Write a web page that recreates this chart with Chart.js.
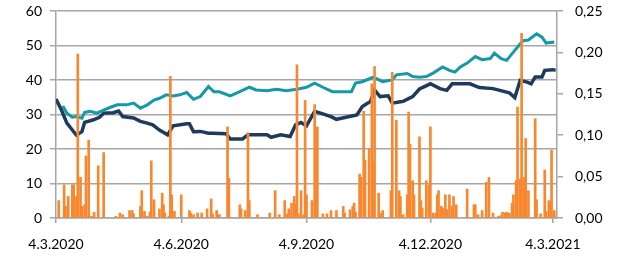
<!DOCTYPE html>
<html>
<head>
<meta charset="utf-8">
<script src="https://cdn.jsdelivr.net/npm/chart.js@4"></script>
<style>
  html, body { margin: 0; padding: 0; background: #fff; }
</style>
</head>
<body>
<canvas id="chart" width="641" height="256"></canvas>
<script>
// x axis is days since 4.3.2020
var tickDays = [0, 92, 184, 275, 365];
var tickLabels = ['4.3.2020', '4.6.2020', '4.9.2020', '4.12.2020', '4.3.2021'];

// dark line (left axis)
var navyDays = [0, 4, 8, 12, 15, 19, 21, 27, 32, 35, 42, 46, 49, 57, 62, 67, 71, 76, 82, 86, 96, 98, 101, 106, 112, 115, 125, 128, 137, 141, 155, 158, 165, 172, 176, 180, 184, 190, 196, 202, 206, 213, 221, 225, 231, 234, 238, 244, 247, 253, 255, 262, 267, 275, 282, 287, 291, 297, 304, 311, 321, 326, 333, 337, 341, 346, 349, 352, 357, 359, 365, 367];
var navyValues = [34.5, 31.3, 27.5, 25.5, 24, 25, 27.7, 28.4, 29.2, 30.4, 30.5, 31, 29.4, 29, 28, 27.5, 27, 25.5, 24.1, 26.7, 27.3, 27.3, 25, 25.1, 24.6, 24.6, 24.4, 22.9, 22.9, 24.1, 24.1, 23.4, 24.1, 23.6, 27, 27.7, 26.7, 30.9, 30.2, 29.4, 28.6, 29.2, 29.9, 32.3, 33.8, 37.1, 35.2, 35.4, 33.3, 33.7, 33.8, 35.2, 37.4, 38.9, 37.5, 37, 38.9, 38.9, 38.9, 37.8, 37.5, 37, 36.3, 34.9, 39.9, 39.4, 38.9, 40.9, 40.9, 42.8, 43, 42.8];

// teal line (left axis)
var tealDays = [5, 8, 12, 15, 19, 21, 25, 30, 35, 40, 45, 52, 57, 62, 67, 72, 76, 81, 86, 91, 96, 101, 106, 112, 116, 120, 128, 135, 142, 147, 155, 162, 169, 177, 184, 190, 196, 203, 211, 217, 220, 225, 233, 240, 247, 250, 258, 262, 267, 272, 277, 284, 289, 293, 297, 302, 308, 313, 319, 322, 327, 331, 337, 343, 347, 353, 357, 360, 366];
var tealValues = [32.5, 30.4, 29.2, 29.4, 28.9, 30.6, 30.9, 30.4, 31.3, 32.1, 32.8, 32.8, 33.3, 31.8, 32.8, 34.2, 34.7, 35.7, 35.4, 35.7, 36.4, 34.4, 35.2, 38.1, 36.6, 36.6, 35.4, 36.6, 37.9, 37.1, 36.9, 37.3, 36.9, 37.3, 37.9, 39.1, 37.9, 36.6, 36.6, 36.6, 39.1, 39.5, 40.8, 39.5, 40, 41.5, 41.9, 41, 40.8, 41, 42, 43.8, 42.8, 42.3, 43.8, 44.9, 46.8, 45.9, 46.2, 47.8, 46.2, 45.7, 48.6, 51.4, 51.6, 53.4, 52.4, 50.7, 51];

// orange bars (right axis)
var barDays = [2, 6, 7, 9, 12, 13, 15, 16, 18, 19, 21, 22, 24, 26, 28, 31, 35, 44, 47, 49, 54, 56, 57, 62, 63, 65, 67, 69, 70, 72, 76, 78, 79, 80, 83, 84, 85, 87, 92, 98, 99, 101, 104, 107, 111, 114, 115, 118, 120, 126, 127, 135, 136, 139, 141, 142, 148, 157, 161, 164, 168, 170, 171, 173, 175, 176, 177, 178, 180, 182, 183, 184, 188, 190, 191, 192, 196, 199, 202, 206, 211, 212, 216, 218, 219, 220, 223, 224, 226, 227, 230, 232, 233, 234, 237, 239, 240, 246, 247, 250, 252, 253, 255, 258, 259, 260, 262, 263, 267, 268, 269, 272, 274, 275, 277, 279, 280, 281, 283, 284, 286, 287, 289, 291, 292, 294, 302, 307, 308, 310, 313, 316, 318, 321, 325, 327, 328, 330, 331, 333, 335, 336, 338, 339, 341, 342, 344, 345, 347, 352, 353, 356, 359, 360, 362, 363, 364, 366];
var barValues = [0.021, 0.040, 0.014, 0.026, 0.040, 0.040, 0.026, 0.198, 0.049, 0.014, 0.016, 0.075, 0.094, 0.002, 0.007, 0.063, 0.079, 0.002, 0.006, 0.004, 0.009, 0.009, 0.005, 0.014, 0.033, 0.008, 0.002, 0.007, 0.069, 0.022, 0.011, 0.030, 0.016, 0.006, 0.002, 0.171, 0.028, 0.008, 0.028, 0.009, 0.006, 0.004, 0.006, 0.006, 0.011, 0.023, 0.005, 0.009, 0.004, 0.110, 0.048, 0.016, 0.011, 0.009, 0.103, 0.021, 0.004, 0.006, 0.033, 0.004, 0.021, 0.005, 0.011, 0.018, 0.026, 0.017, 0.185, 0.005, 0.033, 0.004, 0.142, 0.028, 0.021, 0.137, 0.109, 0.110, 0.005, 0.005, 0.009, 0.009, 0.014, 0.006, 0.010, 0.014, 0.018, 0.007, 0.053, 0.049, 0.129, 0.070, 0.083, 0.162, 0.067, 0.183, 0.030, 0.006, 0.009, 0.033, 0.176, 0.118, 0.033, 0.026, 0.004, 0.028, 0.128, 0.089, 0.045, 0.028, 0.098, 0.021, 0.012, 0.045, 0.040, 0.110, 0.006, 0.006, 0.028, 0.033, 0.014, 0.012, 0.028, 0.010, 0.028, 0.014, 0.026, 0.016, 0.035, 0.016, 0.016, 0.004, 0.009, 0.043, 0.049, 0.006, 0.002, 0.003, 0.007, 0.006, 0.007, 0.006, 0.018, 0.028, 0.045, 0.134, 0.047, 0.223, 0.049, 0.096, 0.033, 0.120, 0.022, 0.005, 0.058, 0.008, 0.021, 0.020, 0.082, 0.009];

function pairs(xs, ys) {
    return xs.map(function(x, i) { return { x: x, y: ys[i] }; });
}

var gridGrey = '#a6a6a6';
var font = { family: 'Lato, "Open Sans", sans-serif', size: 14 };

// fixed axis widths, and no extra label padding above/below the y axes
function fitVertical(width) {
    return function(axis) {
        axis.width = width;
        axis.paddingTop = 0;
        axis.paddingBottom = 0;
    };
}

new Chart(document.getElementById('chart').getContext('2d'), {
    type: 'bar',
    data: {
        datasets: [
            {
                type: 'bar',
                data: pairs(barDays, barValues),
                yAxisID: 'y1',
                backgroundColor: '#f7882f',
                barThickness: 2,
                order: 0
            },
            {
                type: 'line',
                data: pairs(navyDays, navyValues),
                yAxisID: 'y',
                borderColor: '#1e3a5c',
                borderWidth: 3.5,
                pointRadius: 0,
                order: 2
            },
            {
                type: 'line',
                data: pairs(tealDays, tealValues),
                yAxisID: 'y',
                borderColor: '#1499a8',
                borderWidth: 3,
                pointRadius: 0,
                order: 1
            }
        ]
    },
    options: {
        responsive: false,
        animation: false,
        layout: { padding: { top: 11, left: 0, right: 0, bottom: 0 } },
        plugins: { legend: { display: false }, tooltip: { enabled: false } },
        scales: {
            x: {
                type: 'linear',
                offset: false,
                min: 0,
                max: 368,
                afterBuildTicks: function(axis) {
                    axis.ticks = tickDays.map(function(d) { return { value: d }; });
                },
                afterFit: function(axis) { axis.height = 38; },
                ticks: {
                    color: '#000',
                    font: font,
                    maxRotation: 0,
                    autoSkip: false,
                    padding: 13,
                    callback: function(value) {
                        var i = tickDays.indexOf(value);
                        return i >= 0 ? tickLabels[i] : '';
                    }
                },
                grid: { offset: false, drawOnChartArea: false, drawTicks: true, tickLength: 5, color: gridGrey, lineWidth: 1.5 },
                border: { color: gridGrey, width: 1.5 }
            },
            y: {
                position: 'left',
                min: 0,
                max: 60,
                afterFit: fitVertical(56),
                ticks: { stepSize: 10, autoSkip: false, color: '#000', font: font, padding: 8 },
                grid: { color: gridGrey, lineWidth: 1.5, tickLength: 6 },
                border: { color: gridGrey, width: 1.5 }
            },
            y1: {
                position: 'right',
                min: 0,
                max: 0.25,
                afterFit: fitVertical(84),
                ticks: {
                    stepSize: 0.05,
                    autoSkip: false,
                    color: '#000',
                    font: font,
                    padding: 12,
                    callback: function(v) { return v.toFixed(2).replace('.', ','); }
                },
                grid: { drawOnChartArea: false, color: gridGrey, lineWidth: 1.5, tickLength: 6 },
                border: { color: gridGrey, width: 1.5 }
            }
        }
    }
});
</script>
</body>
</html>
